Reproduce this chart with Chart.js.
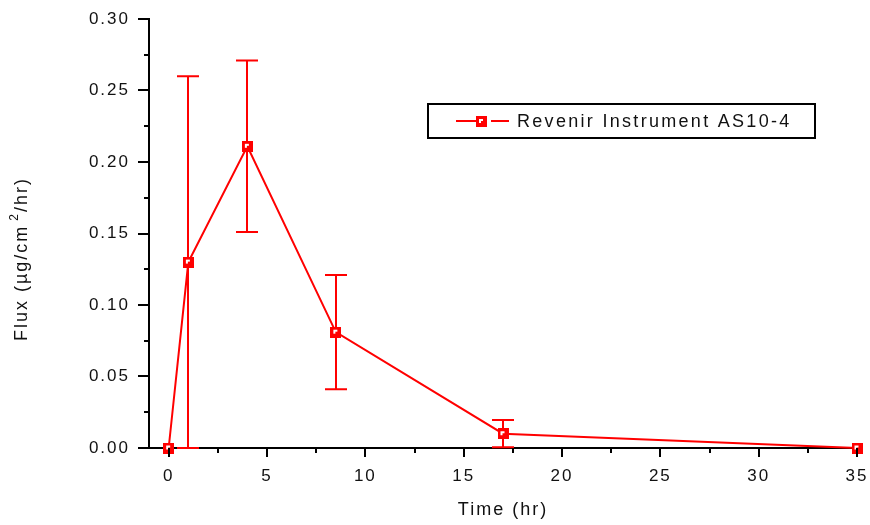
<!DOCTYPE html>
<html>
<head>
<meta charset="utf-8">
<script src="https://cdn.jsdelivr.net/npm/chart.js@4/dist/chart.umd.min.js"></script>
<style>
html,body{margin:0;padding:0;background:#fff;}
#wrap{width:870px;height:525px;}
</style>
</head>
<body>
<div id="wrap"><canvas id="c" width="870" height="525"></canvas></div>
<script>
// ---- data ----
const times = [0, 1, 4, 8.5, 17, 35];
const flux = [0, 0.13, 0.211, 0.081, 0.010, 0];
const fluxErr = [0, 0.13, 0.06, 0.04, 0.0095, 0];
const xMajorTicks = [0, 5, 10, 15, 20, 25, 30, 35];
const xMinorTicks = [2.5, 7.5, 12.5, 17.5, 22.5, 27.5, 32.5];
const yMajorTicks = [0, 0.05, 0.10, 0.15, 0.20, 0.25, 0.30];
const yMinorTicks = [0.025, 0.075, 0.125, 0.175, 0.225, 0.275];
const seriesLabel = 'Revenir Instrument AS10-4';
const xTitle = 'Time (hr)';
const yTitleParts = ['Flux (µg/cm', '2', '/hr)'];

const RED = '#ff0000';
const INK = '#111111';
const FONT = "'Liberation Sans', Arial, sans-serif";

// marker image (Origin-like square)
function makeMarker() {
  const c = document.createElement('canvas');
  c.width = 11; c.height = 11;
  const g = c.getContext('2d');
  g.fillStyle = RED; g.fillRect(0, 0, 11, 11);
  g.fillStyle = '#fff'; g.fillRect(3, 3, 4, 4);
  g.fillStyle = RED; g.fillRect(5, 5, 2, 2);
  return c;
}
const marker = makeMarker();

const spacingPlugin = {
  id: 'spacing',
  beforeDraw(chart) { chart.ctx.letterSpacing = '2px'; }
};

const errorBarPlugin = {
  id: 'errorBars',
  beforeDatasetsDraw(chart) {
    const ctx = chart.ctx, xs = chart.scales.x, ys = chart.scales.y;
    ctx.save();
    ctx.strokeStyle = RED; ctx.lineWidth = 2;
    times.forEach((t, i) => {
      const e = fluxErr[i];
      if (!e) return;
      const px = Math.round(xs.getPixelForValue(t));
      const lo = ys.getPixelForValue(Math.max(0, flux[i] - e));
      const hi = ys.getPixelForValue(flux[i] + e);
      const cap = 11;
      ctx.beginPath();
      ctx.moveTo(px, lo); ctx.lineTo(px, hi);
      ctx.moveTo(px - cap, hi); ctx.lineTo(px + cap, hi);
      ctx.moveTo(px - cap, lo); ctx.lineTo(px + cap, lo);
      ctx.stroke();
    });
    ctx.restore();
  }
};

const axisDecorPlugin = {
  id: 'axisDecor',
  afterDraw(chart) {
    const ctx = chart.ctx, xs = chart.scales.x, ys = chart.scales.y;
    const area = chart.chartArea;
    ctx.save();
    ctx.strokeStyle = '#000'; ctx.lineWidth = 2;
    ctx.beginPath();
    yMajorTicks.forEach(v => { const p = Math.round(ys.getPixelForValue(v)); ctx.moveTo(area.left - 11, p); ctx.lineTo(area.left, p); });
    yMinorTicks.forEach(v => { const p = Math.round(ys.getPixelForValue(v)); ctx.moveTo(area.left - 5, p); ctx.lineTo(area.left, p); });
    xMajorTicks.forEach(v => { const p = Math.round(xs.getPixelForValue(v)); ctx.moveTo(p, area.bottom); ctx.lineTo(p, area.bottom + 9); });
    xMinorTicks.forEach(v => { const p = Math.round(xs.getPixelForValue(v)); ctx.moveTo(p, area.bottom); ctx.lineTo(p, area.bottom + 5); });
    ctx.stroke();

    // y axis title with superscript
    ctx.fillStyle = INK;
    ctx.letterSpacing = '2px';
    ctx.translate(22, 259);
    ctx.rotate(-Math.PI / 2);
    ctx.textBaseline = 'middle';
    ctx.textAlign = 'left';
    const big = '18px ' + FONT, small = '12px ' + FONT;
    ctx.font = big; const w0 = ctx.measureText(yTitleParts[0]).width;
    ctx.font = small; const w1 = ctx.measureText(yTitleParts[1]).width + 4;
    ctx.font = big; const w2 = ctx.measureText(yTitleParts[2]).width;
    let x = -(w0 + w1 + w2) / 2;
    ctx.font = big; ctx.fillText(yTitleParts[0], x, 0); x += w0 + 4;
    ctx.font = small; ctx.fillText(yTitleParts[1], x, -7); x += w1 - 4;
    ctx.font = big; ctx.fillText(yTitleParts[2], x, 0);
    ctx.restore();

    // legend box
    ctx.save();
    ctx.letterSpacing = '2.3px';
    const lx = 428, ly = 104, lw = 387, lh = 34;
    ctx.strokeStyle = '#000'; ctx.lineWidth = 2;
    ctx.strokeRect(lx, ly, lw, lh);
    const cy = ly + lh / 2;
    ctx.strokeStyle = RED; ctx.lineWidth = 2;
    ctx.beginPath(); ctx.moveTo(456, cy); ctx.lineTo(476, cy); ctx.moveTo(491, cy); ctx.lineTo(509, cy); ctx.stroke();
    ctx.drawImage(marker, 476, cy - 5);
    ctx.fillStyle = INK; ctx.font = '18px ' + FONT;
    ctx.textBaseline = 'middle'; ctx.textAlign = 'left';
    ctx.fillText(chart.data.datasets[0].label, 517, cy + 1);
    ctx.restore();
  }
};

Chart.defaults.color = INK;
Chart.defaults.font.family = FONT;

new Chart(document.getElementById('c'), {
  type: 'line',
  data: {
    datasets: [{
      label: seriesLabel,
      data: times.map((t, i) => ({ x: t, y: flux[i] })),
      borderColor: RED,
      backgroundColor: RED,
      borderWidth: 2,
      tension: 0,
      pointStyle: marker,
      pointRadius: 5,
      clip: false
    }]
  },
  options: {
    responsive: false,
    devicePixelRatio: 1,
    animation: false,
    events: [],
    layout: { padding: { top: 19, right: 13, left: 0, bottom: 0 } },
    plugins: { legend: { display: false }, tooltip: { enabled: false } },
    scales: {
      x: {
        type: 'linear',
        min: -1, max: 35,
        afterBuildTicks: s => { s.ticks = xMajorTicks.map(v => ({ value: v })); },
        afterFit: s => { s.height = 77; s.paddingLeft = 0; s.paddingRight = 0; s.paddingTop = 0; s.paddingBottom = 0; },
        ticks: { font: { size: 17 }, padding: 18, color: INK, callback: v => String(v), maxRotation: 0, autoSkip: false },
        grid: { drawOnChartArea: false, drawTicks: false },
        border: { display: true, color: '#000', width: 2 },
        title: { display: true, text: xTitle, font: { size: 18 }, color: INK, padding: { top: 0, bottom: 4 } }
      },
      y: {
        type: 'linear',
        min: 0, max: 0.30,
        afterBuildTicks: s => { s.ticks = yMajorTicks.map(v => ({ value: v })); },
        afterFit: s => { s.width = 149; s.paddingTop = 0; s.paddingBottom = 0; s.paddingLeft = 0; s.paddingRight = 0; },
        ticks: { font: { size: 17 }, padding: 19, color: INK, callback: v => v.toFixed(2) },
        grid: { drawOnChartArea: false, drawTicks: false },
        border: { display: true, color: '#000', width: 2 }
      }
    }
  },
  plugins: [spacingPlugin, errorBarPlugin, axisDecorPlugin]
});
</script>
</body>
</html>
